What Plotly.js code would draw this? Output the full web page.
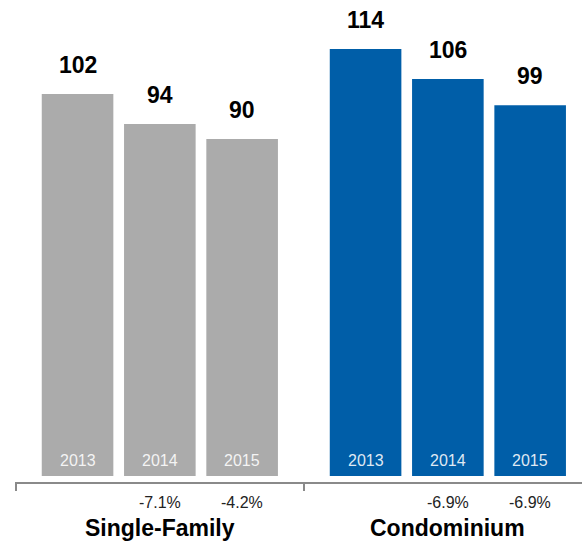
<!DOCTYPE html>
<html>
<head>
<meta charset="utf-8">
<script src="https://cdn.plot.ly/plotly-3.0.1.min.js"></script>
<style>
  html, body { margin: 0; padding: 0; background: #ffffff; }
  #chart { width: 582px; height: 545px; }
</style>
</head>
<body>
<div id="chart"></div>
<script>
// ---- Data ----
const groups = ["Single-Family", "Condominium"];
const years = ["2013", "2014", "2015"];
const singleFamily = [102, 94, 90];
const condominium = [114, 106, 99];
const singleFamilyChange = ["", "-7.1%", "-4.2%"];
const condominiumChange = ["", "-6.9%", "-6.9%"];

// ---- Styling ----
const colors = ["#ababab", "#005ea8"];
const groupSpacing = 3.5;
const barWidth = 0.87;
const yMin = -1.6, yMax = 127.1;
const FONT = "Liberation Sans, Arial, Helvetica, sans-serif";

const seriesValues = [singleFamily, condominium];
const seriesChange = [singleFamilyChange, condominiumChange];

const traces = [];
const annotations = [];

groups.forEach((g, gi) => {
  const xs = years.map((y, i) => i + gi * groupSpacing);
  traces.push({
    type: "bar",
    name: g,
    x: xs,
    y: seriesValues[gi],
    width: years.map(() => barWidth),
    marker: { color: colors[gi], line: { width: 0 } },
    hoverinfo: "none"
  });
  xs.forEach((x, i) => {
    // value labels
    annotations.push({
      x: x, y: seriesValues[gi][i], xref: "x", yref: "y",
      text: String(seriesValues[gi][i]), showarrow: false,
      yanchor: "bottom", yshift: 14,
      font: { family: FONT, size: 23, color: "#000000", weight: "bold" }
    });
    // year labels inside bars
    annotations.push({
      x: x, y: 0, xref: "x", yref: "y",
      text: years[i], showarrow: false,
      yanchor: "middle", yshift: 16,
      font: { family: FONT, size: 16, color: "rgba(255,255,255,0.88)" }
    });
    // change labels below axis
    if (seriesChange[gi][i]) {
      annotations.push({
        x: x, y: yMin, xref: "x", yref: "y",
        text: seriesChange[gi][i], showarrow: false,
        yanchor: "middle", yshift: -20,
        font: { family: FONT, size: 16, color: "#222222" }
      });
    }
  });
  // group label
  annotations.push({
    x: xs[1], y: yMin, xref: "x", yref: "y",
    text: g, showarrow: false,
    yanchor: "middle", yshift: -46,
    font: { family: FONT, size: 23, color: "#000000", weight: "bold" }
  });
});

const layout = {
  width: 582, height: 545,
  margin: { l: 15, r: 0, t: 0, b: 63 },
  paper_bgcolor: "#ffffff", plot_bgcolor: "#ffffff",
  showlegend: false,
  barmode: "overlay",
  xaxis: {
    range: [-0.76, 6.13],
    showgrid: false, zeroline: false,
    showline: true, linecolor: "#8a8a8a", linewidth: 2,
    ticks: "outside", ticklen: 7, tickwidth: 2, tickcolor: "#8a8a8a",
    tickmode: "array", tickvals: [-0.75, 2.75, 6.25],
    showticklabels: false, fixedrange: true
  },
  yaxis: {
    range: [yMin, yMax],
    showgrid: false, zeroline: false, showline: false,
    showticklabels: false, ticks: "", fixedrange: true
  },
  annotations: annotations
};

Plotly.newPlot("chart", traces, layout, { displayModeBar: false, staticPlot: true });
</script>
</body>
</html>
